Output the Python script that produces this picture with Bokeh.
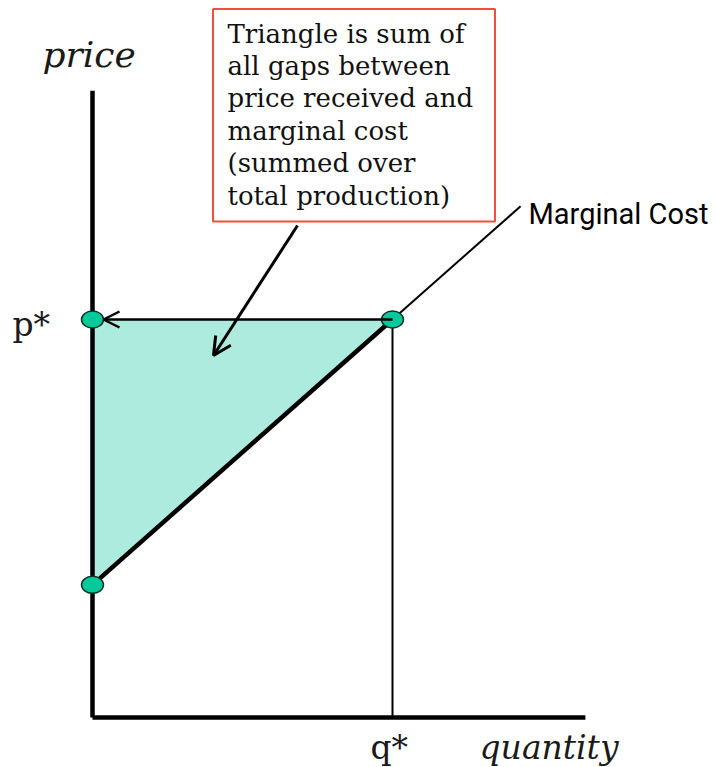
from bokeh.plotting import figure
from bokeh.models import Range1d, Arrow, OpenHead, ColumnDataSource
from bokeh.core.properties import value
from bokeh.embed import file_html
from bokeh.resources import INLINE

# ---- economic data ----
q_star = 10.0          # equilibrium quantity
p_star = 12.0          # market price
mc_intercept = 4.0     # marginal cost at q = 0
mc_slope = 0.8         # marginal cost slope
q_mc_end = 14.27       # where the drawn MC line stops
q_axis_end = 16.43     # length of quantity axis
p_axis_end = 18.9      # length of price axis

x_label = "quantity"
y_label = "price"
q_tick = "q*"
p_tick = "p*"
curve_label = "Marginal Cost"
note_lines = ["Triangle is sum of", "all gaps between", "price received and",
              "marginal cost", "(summed over", "total production)"]

# ---- canvas geometry (pixel -> data helpers for annotations) ----
W, H = 717, 767
OFF = 0
OX, OY = 92.0, 717.0      # origin in page pixels
SX, SY = 30.0, 398.0 / 12.0
TS = -9                   # text vertical correction

def dx(px):
    return (px - OX) / SX

def dy(py):
    return (OY - py) / SY

p = figure(width=W, height=H, output_backend="svg", toolbar_location=None,
           x_range=Range1d(dx(OFF), dx(OFF + W)), y_range=Range1d(dy(OFF + H), dy(OFF)),
           x_axis_type=None, y_axis_type=None, min_border=0,
           outline_line_color=None, background_fill_color="white")
p.xgrid.visible = False
p.ygrid.visible = False

mc_at = lambda q: mc_intercept + mc_slope * q

# triangle (producer surplus)
p.patch([0, q_star, 0], [mc_intercept, p_star, p_star],
        fill_color="#aeebdf", line_color=None)

# MC line: thick part and thin extension
p.line([0, q_star], [mc_at(0), mc_at(q_star)], line_color="black", line_width=4.5)
p.line([q_star, q_mc_end], [mc_at(q_star), mc_at(q_mc_end)], line_color="black", line_width=2)

# vertical drop at q*
p.line([q_star, q_star], [0, p_star], line_color="black", line_width=2)

# axes
p.line([0, 0], [0, p_axis_end], line_color="black", line_width=4.5)
p.line([0, q_axis_end], [0, 0], line_color="black", line_width=4.5)

# top edge as arrow pointing to p*
p.add_layout(Arrow(end=OpenHead(size=16, line_width=2.5, line_color="black"),
                   x_start=q_star, y_start=p_star, x_end=dx(103), y_end=p_star,
                   line_width=2.5, line_color="black"))

# points
pts = ColumnDataSource(dict(x=[0, q_star, 0], y=[p_star, p_star, mc_intercept]))
p.ellipse(x="x", y="y", width=22 / SX, height=17 / SY, source=pts,
          fill_color="#00c99a", line_color="#10302a", line_width=1.5)

# note box
p.quad(left=dx(212.5), right=dx(494.5), top=dy(8.5), bottom=dy(221),
       fill_color="white", line_color="#f0503a", line_width=2)
for i, s in enumerate(note_lines):
    p.text(x=[dx(227)], y=[dy(42 + TS + i * 32.4)], text=[s],
           text_font=value("DejaVu Serif"), text_font_size="26px",
           text_color="#111111", text_baseline="alphabetic", text_align="left")

# arrow from box into triangle
p.add_layout(Arrow(end=OpenHead(size=18, line_width=3, line_color="black"),
                   x_start=dx(297), y_start=dy(225), x_end=dx(213), y_end=dy(355),
                   line_width=3, line_color="black"))

# labels
p.text(x=[dx(42)], y=[dy(63 + TS)], text=[y_label], text_font=value("DejaVu Serif"),
       text_font_style="italic", text_font_size="36px", text_color="#1a1a1a",
       text_baseline="alphabetic", text_align="left")
p.text(x=[dx(479)], y=[dy(756 + TS)], text=[x_label], text_font=value("DejaVu Serif"),
       text_font_style="italic", text_font_size="33px", text_color="#1a1a1a",
       text_baseline="alphabetic", text_align="left")
p.text(x=[dx(12)], y=[dy(333 + TS)], text=[p_tick], text_font=value("DejaVu Serif"),
       text_font_size="33px", text_color="#1a1a1a",
       text_baseline="alphabetic", text_align="left")
p.text(x=[dx(370)], y=[dy(756 + TS)], text=[q_tick], text_font=value("DejaVu Serif"),
       text_font_size="33px", text_color="#1a1a1a",
       text_baseline="alphabetic", text_align="left")
p.text(x=[dx(528)], y=[dy(222 + TS)], text=[curve_label], text_font=value("Roboto"),
       text_font_size="29px", text_color="black",
       text_baseline="alphabetic", text_align="left")

open("out.html", "w").write(file_html(p, INLINE))
